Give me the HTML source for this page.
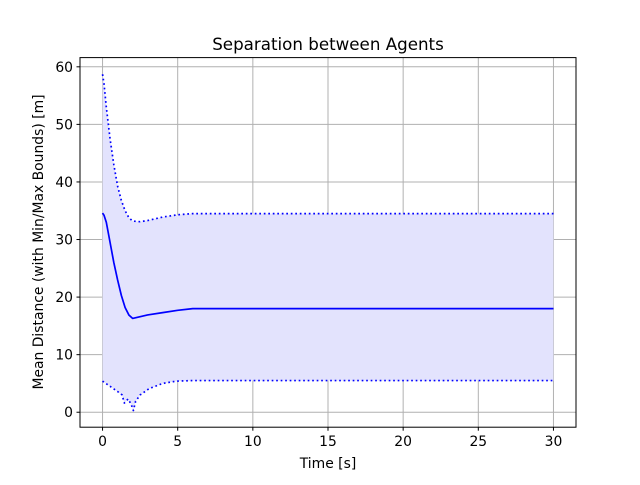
<!DOCTYPE html>
<html><head><meta charset="utf-8"><style>
body{margin:0;background:#fff;}
svg text{font-family:"DejaVu Sans","Liberation Sans",sans-serif;}
</style></head><body>
<svg id="chart" width="640" height="480" xmlns="http://www.w3.org/2000/svg">
<rect width="640" height="480" fill="#fff"/>
<g id="grid"></g><g id="series"></g><g id="axes"></g>
</svg>
<script>
const timeMean = [0,0.1,0.25,0.5,0.75,1.0,1.25,1.5,1.75,2.0,2.5,3,4,5,6,10,20,30];
const meanValues = [34.6,34.2,33,29.5,26,23,20.3,18.2,16.9,16.3,16.6,16.9,17.3,17.7,18,18,18,18];
const timeMax = [0,0.1,0.25,0.5,0.75,1.0,1.25,1.5,1.75,2.0,2.5,3,4,5,6,10,20,30];
const maxValues = [58.7,57,53,47.5,43,39.3,36.8,35,33.8,33.2,33.1,33.3,33.9,34.3,34.5,34.5,34.5,34.5];
const timeMin = [0,0.5,1.0,1.3,1.45,1.7,1.9,2.05,2.2,2.5,3.1,4,4.9,6,10,20,30];
const minValues = [5.4,4.5,3.6,3.0,1.6,2.3,1.4,0.3,1.9,3.0,4.1,5.0,5.4,5.5,5.5,5.5,5.5];
const xTicks = [0,5,10,15,20,25,30];
const yTicks = [0,10,20,30,40,50,60];

const L=80,R=576,T=57.6,B=427.2;
const xmin=-1.5,xmax=31.5,ymin=-2.6,ymax=61.6;
const X=v=>L+(v-xmin)/(xmax-xmin)*(R-L);
const Y=v=>B-(v-ymin)/(ymax-ymin)*(B-T);
const NS="http://www.w3.org/2000/svg";
function mk(tag,attrs,parent){const e=document.createElementNS(NS,tag);for(const k in attrs)e.setAttribute(k,attrs[k]);parent.appendChild(e);return e;}
const grid=document.getElementById('grid'),series=document.getElementById('series'),axes=document.getElementById('axes');

let d='M'+timeMax.map((t,i)=>X(t)+','+Y(maxValues[i])).join(' L');
for(let i=timeMin.length-1;i>=0;i--) d+=' L'+X(timeMin[i])+','+Y(minValues[i]);
d+=' Z';
const band=mk('path',{d:d,fill:'#e3e3fd',stroke:'none'},series);



xTicks.forEach(v=>{const g=mk('line',{x1:X(v),x2:X(v),y1:T,y2:B,stroke:'#b0b0b0','stroke-width':1},grid);
});
yTicks.forEach(v=>{const g=mk('line',{x1:L,x2:R,y1:Y(v),y2:Y(v),stroke:'#b0b0b0','stroke-width':1},grid);
});

function line(ts,vs,dash,name){const p=mk('path',{d:'M'+ts.map((t,i)=>X(t)+','+Y(vs[i])).join(' L'),fill:'none',stroke:'#0000ff','stroke-width':1.7,'stroke-dasharray':dash||'none','stroke-linejoin':'round'},series);
}
line(timeMax,maxValues,'1.7,2.8','max-line');
line(timeMin,minValues,'1.7,2.8','min-line');
line(timeMean,meanValues,null,'mean-line');

const frame=mk('rect',{x:L,y:T,width:R-L,height:B-T,fill:'none',stroke:'#000','stroke-width':1},axes);

xTicks.forEach(v=>{mk('line',{x1:X(v),x2:X(v),y1:B,y2:B+3.5,stroke:'#000'},axes);
const t=mk('text',{x:X(v),y:B+19,'text-anchor':'middle','font-size':'13.9px'},axes);t.textContent=v;
});
yTicks.forEach(v=>{mk('line',{x1:L-3.5,x2:L,y1:Y(v),y2:Y(v),stroke:'#000'},axes);
const t=mk('text',{x:L-7,y:Y(v)+5,'text-anchor':'end','font-size':'13.9px'},axes);t.textContent=v;
});
</script>
<svg style="position:absolute;left:0;top:0" width="640" height="480">
<text x="328" y="50" text-anchor="middle" font-size="16.7px">Separation between Agents</text>
<text x="328" y="468" text-anchor="middle" font-size="13.9px">Time [s]</text>
<text x="0" y="0" transform="translate(43,242) rotate(-90)" text-anchor="middle" font-size="13.9px">Mean Distance (with Min/Max Bounds) [m]</text>
</svg>
</body></html>
